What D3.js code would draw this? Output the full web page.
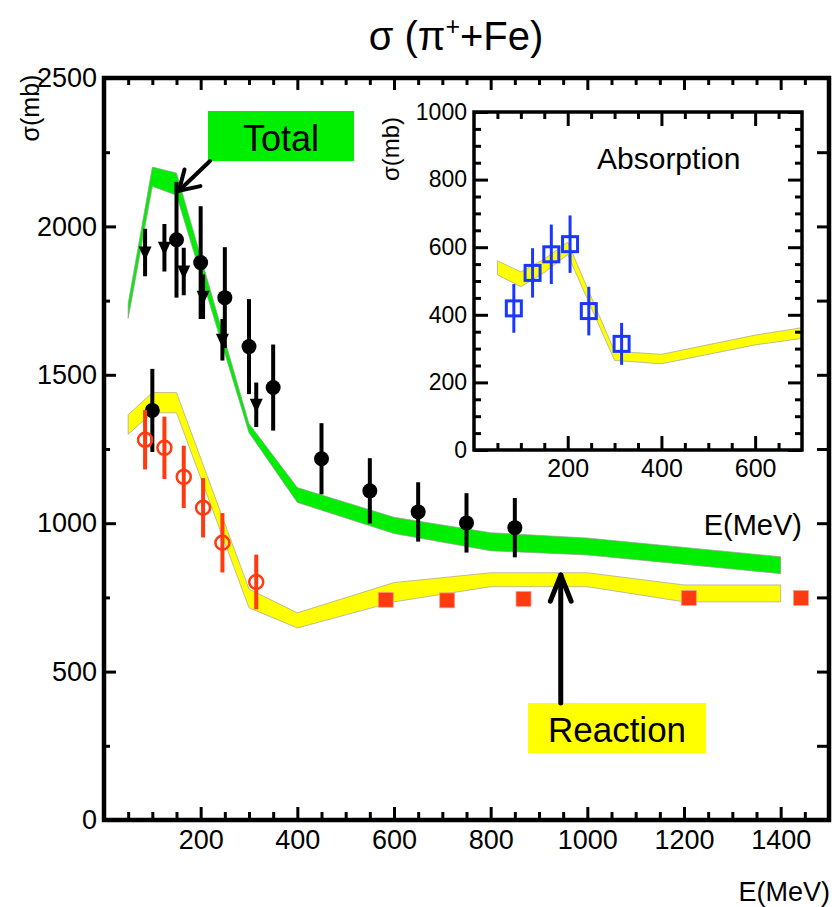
<!DOCTYPE html>
<html>
<head>
<meta charset="utf-8">
<script src="https://cdn.jsdelivr.net/npm/d3@7"></script>
<style>
  html, body { margin: 0; padding: 0; background: #fff; }
  svg { display: block; }
  text { font-family: "Liberation Sans", Arial, Helvetica, sans-serif; fill: #000; }
</style>
</head>
<body>
<svg id="chart" width="835" height="907"></svg>
<script>
// ---- Model bands (pi+ + Fe cross sections, mb) ----
const totalBandE  = [50, 100, 150, 300, 400, 600, 800, 1000, 1400];
const totalBandHi = [1740, 2200, 2180, 1335, 1120, 1020, 968, 950, 887];
const totalBandLo = [1690, 2135, 2105, 1305, 1070, 965, 907, 893, 830];

const reacBandE  = [50, 100, 150, 300, 400, 600, 800, 1000, 1200, 1400];
const reacBandHi = [1365, 1440, 1440, 778, 698, 800, 833, 833, 792, 792];
const reacBandLo = [1300, 1372, 1372, 715, 647, 735, 786, 786, 735, 735];

const absBandE  = [50, 100, 150, 200, 300, 400, 600, 700];
const absBandHi = [560, 527, 565, 615, 292, 283, 340, 362];
const absBandLo = [518, 483, 525, 578, 265, 255, 311, 330];

// ---- Measured total cross sections ----
const totCircE   = [100, 150, 200, 250, 300, 350, 450, 550, 650, 750, 850];
const totCircS   = [1380, 1955, 1878, 1760, 1595, 1457, 1217, 1109, 1038, 1001, 985];
const totCircErr = [140, 195, 190, 170, 160, 145, 120, 110, 100, 100, 100];

const totTriE   = [85, 125, 165, 205, 245, 315];
const totTriS   = [1912, 1928, 1848, 1763, 1618, 1399];
const totTriErr = [80, 80, 80, 75, 70, 75];

// ---- Measured reaction cross sections ----
const reacCircE   = [85, 125, 165, 205, 245, 315];
const reacCircS   = [1281, 1254, 1156, 1052, 934, 802];
const reacCircErr = [100, 105, 105, 100, 100, 92];

const reacSqE = [583, 710, 868, 1210, 1442];
const reacSqS = [742, 740, 745, 748, 748];

// ---- Measured absorption cross sections ----
const absE   = [85, 125, 165, 205, 245, 315];
const absS   = [419, 524, 579, 609, 411, 314];
const absErr = [72, 73, 88, 85, 72, 62];

// ---- Axis ticks ----
const mainXMajor = [200, 400, 600, 800, 1000, 1200, 1400];
const mainYMajor = [0, 500, 1000, 1500, 2000, 2500];
const insetXMajor = [200, 400, 600];
const insetYMajor = [0, 200, 400, 600, 800, 1000];

const GREEN = "#00ee00", YELLOW = "#ffff00", RED = "#ff3a10", BLUE = "#1a36ff";
const FONT = '"Liberation Sans", Arial, Helvetica, sans-serif';

const svg = d3.select("#chart");

// ---------- main panel ----------
const x = d3.scaleLinear().domain([0, 1500]).range([104, 829]);
const y = d3.scaleLinear().domain([0, 2500]).range([820, 78]);

const zip = (E, lo, hi) => E.map((e, i) => ({ e, lo: lo[i], hi: hi[i] }));
const bandArea = (xs, ys) => d3.area().x(d => xs(d.e)).y0(d => ys(d.lo)).y1(d => ys(d.hi));

svg.append("clipPath").attr("id", "clipMain")
  .append("rect").attr("x", x(0)).attr("y", y(2500)).attr("width", x(1500) - x(0)).attr("height", y(0) - y(2500));

const plot = svg.append("g").attr("clip-path", "url(#clipMain)");

plot.append("path").datum(zip(totalBandE, totalBandLo, totalBandHi))
  .attr("d", bandArea(x, y)).attr("fill", GREEN).attr("stroke", "#9a9a9a").attr("stroke-width", 0.7);
plot.append("path").datum(zip(reacBandE, reacBandLo, reacBandHi))
  .attr("d", bandArea(x, y)).attr("fill", YELLOW).attr("stroke", "#a0a0a0").attr("stroke-width", 0.7);

function errorBars(g, xs, ys, E, S, Err, color, width) {
  g.selectAll(null).data(E.map((e, i) => ({ e, s: S[i], err: Err[i] }))).enter()
    .append("line")
    .attr("x1", d => xs(d.e)).attr("x2", d => xs(d.e))
    .attr("y1", d => ys(d.s - d.err)).attr("y2", d => ys(d.s + d.err))
    .attr("stroke", color).attr("stroke-width", width);
}

// total: downward triangles
errorBars(plot, x, y, totTriE, totTriS, totTriErr, "#000", 4);
plot.selectAll(null).data(totTriE.map((e, i) => ({ e, s: totTriS[i] }))).enter()
  .append("path")
  .attr("transform", d => `translate(${x(d.e)},${y(d.s)})`)
  .attr("d", "M-6.5,-6 L6.5,-6 L0,8 Z").attr("fill", "#000");

// total: filled circles
errorBars(plot, x, y, totCircE, totCircS, totCircErr, "#000", 4);
plot.selectAll(null).data(totCircE.map((e, i) => ({ e, s: totCircS[i] }))).enter()
  .append("circle").attr("cx", d => x(d.e)).attr("cy", d => y(d.s)).attr("r", 7.5).attr("fill", "#000");

// reaction: open circles
errorBars(plot, x, y, reacCircE, reacCircS, reacCircErr, RED, 4);
plot.selectAll(null).data(reacCircE.map((e, i) => ({ e, s: reacCircS[i] }))).enter()
  .append("circle").attr("cx", d => x(d.e)).attr("cy", d => y(d.s)).attr("r", 7)
  .attr("fill", "none").attr("stroke", RED).attr("stroke-width", 2.5);

// reaction: filled squares
plot.selectAll(null).data(reacSqE.map((e, i) => ({ e, s: reacSqS[i] }))).enter()
  .append("rect").attr("x", d => x(d.e) - 7.5).attr("y", d => y(d.s) - 7.5).attr("width", 15).attr("height", 15)
  .attr("fill", RED).attr("stroke", "#f4a090").attr("stroke-width", 0.8);

// axes of main panel (inward ticks on all four sides)
function styleAxis(g, fontSize, width) {
  g.select(".domain").remove();
  g.selectAll(".tick line").attr("stroke", "#000").attr("stroke-width", width);
  g.selectAll(".tick text").attr("font-family", FONT).attr("font-size", fontSize).attr("fill", "#000");
}
function minorOf(lo, hi, step, majors) {
  return d3.range(lo, hi + 0.001, step).filter(v => !majors.includes(v));
}
const xMinor = minorOf(50, 1450, 50, mainXMajor);
const yMinor = minorOf(250, 2250, 250, mainYMajor);

svg.append("g").attr("transform", `translate(0,${y(0)})`)
  .call(d3.axisBottom(x).tickValues(mainXMajor).tickSize(-13).tickPadding(10).tickFormat(d3.format("d")))
  .call(g => styleAxis(g, 27, 3));
svg.append("g").attr("transform", `translate(0,${y(0)})`)
  .call(d3.axisBottom(x).tickValues(xMinor).tickSize(-8).tickFormat(""))
  .call(g => styleAxis(g, 27, 3));
svg.append("g").attr("transform", `translate(0,${y(2500)})`)
  .call(d3.axisTop(x).tickValues(mainXMajor).tickSize(-12).tickFormat(""))
  .call(g => styleAxis(g, 27, 3));
svg.append("g").attr("transform", `translate(0,${y(2500)})`)
  .call(d3.axisTop(x).tickValues(xMinor).tickSize(-7).tickFormat(""))
  .call(g => styleAxis(g, 27, 3));

svg.append("g").attr("transform", `translate(${x(0)},0)`)
  .call(d3.axisLeft(y).tickValues(mainYMajor).tickSize(-12).tickPadding(7).tickFormat(d3.format("d")))
  .call(g => styleAxis(g, 27, 3));
svg.append("g").attr("transform", `translate(${x(0)},0)`)
  .call(d3.axisLeft(y).tickValues(yMinor).tickSize(-6).tickFormat(""))
  .call(g => styleAxis(g, 27, 3));
svg.append("g").attr("transform", `translate(${x(1500)},0)`)
  .call(d3.axisRight(y).tickValues(mainYMajor.concat(yMinor)).tickSize(-12).tickFormat(""))
  .call(g => styleAxis(g, 27, 3));

svg.append("rect")
  .attr("x", x(0)).attr("y", y(2500)).attr("width", x(1500) - x(0)).attr("height", y(0) - y(2500))
  .attr("fill", "none").attr("stroke", "#000").attr("stroke-width", 4.5);

// ---------- inset: absorption ----------
const xi = d3.scaleLinear().domain([0, 700]).range([474, 802]);
const yi = d3.scaleLinear().domain([0, 1000]).range([450, 112]);

svg.append("rect").attr("x", xi(0)).attr("y", yi(1000)).attr("width", xi(700) - xi(0)).attr("height", yi(0) - yi(1000))
  .attr("fill", "#fff");
svg.append("clipPath").attr("id", "clipInset")
  .append("rect").attr("x", xi(0)).attr("y", yi(1000)).attr("width", xi(700) - xi(0)).attr("height", yi(0) - yi(1000));
const inset = svg.append("g").attr("clip-path", "url(#clipInset)");

inset.append("path").datum(zip(absBandE, absBandLo, absBandHi))
  .attr("d", bandArea(xi, yi)).attr("fill", YELLOW).attr("stroke", "#a0a0a0").attr("stroke-width", 0.7);

errorBars(inset, xi, yi, absE, absS, absErr, BLUE, 3);
inset.selectAll(null).data(absE.map((e, i) => ({ e, s: absS[i] }))).enter()
  .append("rect").attr("x", d => xi(d.e) - 7.5).attr("y", d => yi(d.s) - 7.5).attr("width", 15).attr("height", 15)
  .attr("fill", "none").attr("stroke", BLUE).attr("stroke-width", 3);

const xiMinor = minorOf(50, 650, 50, insetXMajor);
const yiMinor = minorOf(50, 950, 50, insetYMajor);

svg.append("g").attr("transform", `translate(0,${yi(0)})`)
  .call(d3.axisBottom(xi).tickValues(insetXMajor).tickSize(-14).tickPadding(9).tickFormat(d3.format("d")))
  .call(g => styleAxis(g, 25, 3));
svg.append("g").attr("transform", `translate(0,${yi(0)})`)
  .call(d3.axisBottom(xi).tickValues(xiMinor).tickSize(-7).tickFormat(""))
  .call(g => styleAxis(g, 25, 3));
svg.append("g").attr("transform", `translate(0,${yi(1000)})`)
  .call(d3.axisTop(xi).tickValues(insetXMajor).tickSize(-14).tickFormat(""))
  .call(g => styleAxis(g, 25, 3));
svg.append("g").attr("transform", `translate(0,${yi(1000)})`)
  .call(d3.axisTop(xi).tickValues(xiMinor).tickSize(-7).tickFormat(""))
  .call(g => styleAxis(g, 25, 3));
svg.append("g").attr("transform", `translate(${xi(0)},0)`)
  .call(d3.axisLeft(yi).tickValues(insetYMajor).tickSize(-14).tickPadding(7).tickFormat(d3.format("d")))
  .call(g => styleAxis(g, 23, 3));
svg.append("g").attr("transform", `translate(${xi(0)},0)`)
  .call(d3.axisLeft(yi).tickValues(yiMinor).tickSize(-7).tickFormat(""))
  .call(g => styleAxis(g, 23, 3));
svg.append("g").attr("transform", `translate(${xi(700)},0)`)
  .call(d3.axisRight(yi).tickValues(insetYMajor).tickSize(-14).tickFormat(""))
  .call(g => styleAxis(g, 23, 3));
svg.append("g").attr("transform", `translate(${xi(700)},0)`)
  .call(d3.axisRight(yi).tickValues(yiMinor).tickSize(-7).tickFormat(""))
  .call(g => styleAxis(g, 23, 3));

svg.append("rect").attr("x", xi(0)).attr("y", yi(1000)).attr("width", xi(700) - xi(0)).attr("height", yi(0) - yi(1000))
  .attr("fill", "none").attr("stroke", "#000").attr("stroke-width", 3.5);

svg.append("text").attr("x", 597).attr("y", 169).attr("font-size", 30).text("Absorption");
svg.append("text").attr("x", 802).attr("y", 535).attr("text-anchor", "end").attr("font-size", 29).text("E(MeV)");
svg.append("text").attr("transform", "translate(399,149) rotate(-90)").attr("text-anchor", "middle")
  .attr("font-size", 24).text("σ(mb)");

// ---------- title and axis names ----------
const title = svg.append("text").attr("x", 456).attr("y", 50).attr("text-anchor", "middle").attr("font-size", 40);
title.append("tspan").text("σ (π");
title.append("tspan").attr("font-size", 25).attr("dy", -15).text("+");
title.append("tspan").attr("dy", 15).text("+Fe)");

svg.append("text").attr("x", 830).attr("y", 901).attr("text-anchor", "end").attr("font-size", 27).text("E(MeV)");
svg.append("text").attr("transform", "translate(39,108) rotate(-90)").attr("text-anchor", "middle")
  .attr("font-size", 25).text("σ(mb)");

// ---------- annotations ----------
function arrow(x1, y1, x2, y2, armLen, armAngle, width) {
  const a = Math.atan2(y1 - y2, x1 - x2);
  const g = svg.append("g").attr("stroke", "#000").attr("stroke-width", width).attr("stroke-linecap", "round").attr("fill", "none");
  g.append("line").attr("x1", x1).attr("y1", y1).attr("x2", x2).attr("y2", y2);
  [armAngle, -armAngle].forEach(da => {
    g.append("line").attr("x1", x2).attr("y1", y2)
      .attr("x2", x2 + armLen * Math.cos(a + da)).attr("y2", y2 + armLen * Math.sin(a + da));
  });
}

svg.append("rect").attr("x", 208).attr("y", 111).attr("width", 146).attr("height", 50).attr("fill", GREEN);
svg.append("text").attr("x", 281).attr("y", 151).attr("text-anchor", "middle").attr("font-size", 36).text("Total");
arrow(210, 161, x(155), y(2120), 22, 0.55, 4);

svg.append("rect").attr("x", 528).attr("y", 703).attr("width", 178).attr("height", 50).attr("fill", YELLOW);
svg.append("text").attr("x", 617).attr("y", 742).attr("text-anchor", "middle").attr("font-size", 35).text("Reaction");
arrow(x(945), 703, x(945), y(825), 28, 0.38, 5);
</script>
</body>
</html>
